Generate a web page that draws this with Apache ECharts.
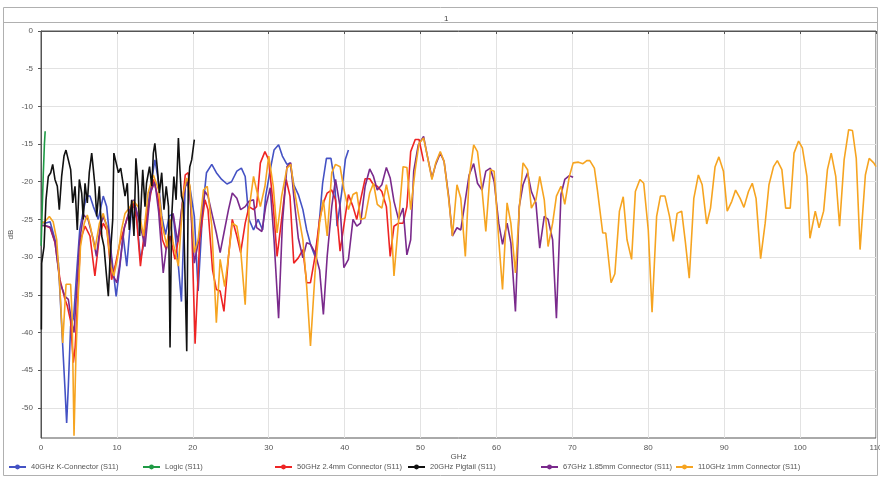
<!DOCTYPE html>
<html><head><meta charset="utf-8">
<script src="https://cdn.jsdelivr.net/npm/echarts@6/dist/echarts.min.js"></script>
<style>html,body{margin:0;padding:0;background:#fff}#c{width:880px;height:477px}</style>
</head><body><div id="c"></div>
<script>
const chartTitle = '1';
const xName = 'GHz';
const yName = 'dB';
const yTicks = [-50,-45,-40,-35,-30,-25,-20,-15,-10,-5,0];

const nameK40 = '40GHz K-Connector (S11)';
const nameLogic = 'Logic (S11)';
const name50 = '50GHz 2.4mm Connector (S11)';
const name20 = '20GHz Pigtail (S11)';
const name67 = '67GHz 1.85mm Connector (S11)';
const name110 = '110GHz 1mm Connector (S11)';

const k40 = [[0.05,-25.3],[0.5,-25.5],[1.2,-25.3],[1.85,-27.7],[2.3,-30.8],[2.7,-38.7],[3.16,-47.5],[3.38,-52.0],[3.6,-47.1],[3.9,-39.2],[4.3,-38],[4.7,-32],[5.1,-26.4],[5.6,-23.7],[6.0,-21.9],[6.45,-21.9],[6.9,-23.3],[7.55,-25.0],[8.2,-21.9],[8.65,-23.3],[9.3,-29.9],[9.9,-35.2],[10.4,-31.2],[10.8,-27],[11.3,-31.2],[11.95,-23.3],[12.5,-23.5],[13.1,-30.3],[13.6,-28],[14.1,-23],[14.6,-19.7],[15.0,-17.1],[15.4,-19.5],[15.9,-24.5],[16.4,-27],[16.9,-24.5],[17.4,-24.3],[18.1,-31.2],[18.5,-35.9],[19.0,-20.6],[19.4,-20.2],[19.6,-20.6],[20.2,-24.6],[20.7,-34.5],[21.3,-23.7],[21.8,-18.8],[22.5,-17.7],[23.1,-18.8],[23.8,-19.7],[24.5,-20.3],[25.1,-20.0],[25.8,-18.6],[26.4,-18.2],[26.9,-19.3],[27.4,-25.0],[28.0,-26.4],[28.6,-25.0],[29.2,-26.4],[29.6,-21.9],[30.2,-18.4],[30.7,-15.8],[31.3,-15.1],[31.8,-16.6],[32.4,-17.7],[32.8,-17.5],[33.3,-20.4],[33.9,-21.7],[34.5,-23.7],[35.0,-26.4],[35.5,-28.3],[36.1,-29.9],[36.5,-27.2],[37.1,-20.2],[37.6,-16.9],[38.2,-16.9],[38.7,-20.2],[39.0,-25.9],[39.6,-21.5],[40.1,-17],[40.5,-15.8]];

const logic = [[0.02,-28.5],[0.15,-24],[0.3,-19],[0.45,-15],[0.55,-13.3]];

const c50 = [[0.05,-25.8],[0.5,-25.8],[1.2,-26.1],[1.85,-28.1],[2.5,-33],[3.16,-35.6],[3.47,-36.5],[3.9,-38.5],[4.26,-44.0],[4.5,-42],[4.9,-34.3],[5.2,-27.7],[5.8,-25.9],[6.45,-27.2],[7.1,-32.5],[7.7,-27.2],[8.2,-25.5],[8.7,-26.5],[9.3,-33.0],[9.8,-31],[10.4,-28.1],[11.3,-25.0],[12.1,-22.6],[12.6,-25],[13.1,-31.2],[13.7,-26],[14.4,-21.9],[14.8,-19.7],[15.4,-22],[16.0,-27.7],[16.5,-29],[17.0,-27.2],[17.65,-30.3],[18.2,-27],[19.0,-19.1],[19.4,-18.8],[19.8,-24],[20.3,-41.5],[20.9,-27.7],[21.6,-22.4],[22.0,-23.7],[22.6,-31.7],[23.1,-34.3],[23.6,-34.5],[24.1,-37.2],[24.7,-29.9],[25.2,-25.0],[25.8,-27.2],[26.3,-29.4],[26.9,-25.5],[27.4,-23.3],[28.0,-23.7],[28.4,-23.3],[28.9,-17.5],[29.5,-16.0],[30.0,-17.1],[30.6,-23.3],[31.1,-29.9],[31.7,-25.0],[32.3,-19.7],[32.8,-21.9],[33.3,-30.8],[33.9,-30.1],[34.5,-29.0],[35.0,-33.4],[35.5,-33.4],[36.1,-29.9],[36.7,-25.0],[37.2,-22.8],[37.7,-21.5],[38.3,-21.1],[38.8,-22.4],[39.4,-29.2],[40.5,-21.7],[41.1,-23.3],[41.6,-25.0],[42.1,-22.4],[42.7,-19.6],[43.3,-19.6],[43.8,-20.4],[44.3,-20.6],[44.9,-21.3],[45.5,-23.3],[46.0,-29.9],[46.5,-25.9],[47.1,-25.5],[47.7,-25.5],[48.2,-23.3],[48.7,-16.0],[49.3,-14.4],[49.8,-14.4],[50.4,-17.3]];

const pig20 = [[0.05,-39.6],[0.09,-30.8],[0.4,-28.6],[0.66,-22.4],[0.96,-19.3],[1.28,-18.8],[1.54,-17.7],[1.84,-19.7],[2.15,-20.6],[2.41,-23.7],[2.72,-19.3],[3.03,-16.6],[3.29,-15.8],[3.6,-17.1],[3.91,-18.4],[4.18,-22.8],[4.48,-20.6],[4.78,-26.4],[5.05,-19.7],[5.36,-21.5],[5.57,-25.0],[5.8,-20.2],[6.1,-22.8],[6.36,-18.8],[6.68,-16.2],[6.9,-18.4],[7.11,-20.6],[7.34,-24.6],[7.68,-20.6],[8.0,-27.2],[8.3,-28.6],[8.56,-31.7],[8.87,-35.2],[9.09,-30.3],[9.45,-25.0],[9.6,-16.2],[9.9,-17.5],[10.2,-18.8],[10.5,-18.2],[10.76,-18.4],[11.07,-21.9],[11.37,-20.2],[11.63,-26.4],[11.95,-22.4],[12.25,-27.2],[12.5,-16.9],[12.8,-20.6],[13.0,-27.2],[13.4,-18.4],[13.7,-23.3],[13.9,-20.2],[14.3,-18.0],[14.6,-20.6],[14.8,-16.2],[15.0,-14.9],[15.3,-18.0],[15.6,-21.5],[15.9,-18.8],[16.2,-23.7],[16.5,-20.6],[16.8,-23.3],[17.0,-42.0],[17.2,-25.0],[17.5,-19.3],[17.8,-22.4],[18.1,-14.2],[18.3,-18.4],[18.5,-21.9],[18.75,-22.8],[19.2,-42.5],[19.4,-20.6],[19.6,-18.0],[19.85,-17.1],[20.2,-14.4]];

const c67 = [[0.05,-25.8],[0.5,-25.8],[1.2,-26],[1.85,-28],[2.5,-33.4],[3.16,-35.2],[3.6,-35.6],[4.04,-38.7],[4.35,-40.0],[4.7,-34.3],[5.1,-27.7],[5.6,-24.4],[6.2,-25.0],[6.9,-27.7],[7.3,-29.9],[7.8,-25.9],[8.2,-24.6],[8.9,-26.4],[9.5,-32.5],[10.0,-33.4],[10.4,-30.8],[11.0,-26],[11.6,-24],[12.2,-22.4],[12.9,-25],[13.7,-28.6],[14.4,-21.5],[15.0,-20],[15.5,-24],[16.1,-32.1],[16.6,-28],[17.4,-24.2],[18.0,-28],[18.6,-23],[19.2,-19.7],[19.6,-21.5],[20.2,-30.8],[20.7,-28.1],[21.6,-21.3],[22.0,-21.9],[22.6,-24.6],[23.1,-26.8],[23.6,-29.4],[24.1,-26.8],[24.7,-23.7],[25.2,-21.5],[25.8,-22.2],[26.3,-23.7],[26.9,-23.3],[27.4,-22.6],[28.0,-22.4],[28.4,-26.1],[29.1,-26.6],[29.6,-23.3],[30.2,-20.8],[30.7,-27.7],[31.3,-38.1],[31.8,-25.5],[32.4,-18.0],[32.9,-17.5],[33.3,-21.9],[33.9,-27.5],[34.5,-30.1],[35.0,-28.1],[35.5,-28.3],[36.1,-29.4],[36.7,-31.7],[37.2,-37.6],[37.7,-29.9],[38.3,-23.3],[38.8,-19.7],[39.4,-23.3],[39.9,-31.4],[40.5,-30.3],[41.1,-25.0],[41.6,-25.9],[42.1,-25.5],[42.7,-20.6],[43.3,-18.3],[43.8,-19.3],[44.3,-21.1],[44.9,-20.4],[45.5,-18.1],[46.0,-19.5],[46.5,-22.6],[47.1,-25.0],[47.7,-23.5],[48.2,-29.7],[48.7,-27.7],[49.1,-18.6],[49.7,-15.1],[50.4,-14.0],[50.9,-16.6],[51.5,-19.5],[52.0,-17.7],[52.6,-16.2],[53.1,-17.3],[53.7,-21.9],[54.2,-27.2],[54.8,-26.1],[55.3,-26.4],[55.9,-22.4],[56.4,-19.1],[57.0,-17.6],[57.5,-20.2],[58.1,-21.1],[58.6,-18.6],[59.2,-18.2],[59.7,-20.0],[60.3,-25.5],[60.8,-28.3],[61.4,-25.5],[61.9,-28.1],[62.5,-37.2],[63.0,-23.3],[63.5,-20.4],[64.1,-18.8],[64.6,-21.3],[65.2,-22.8],[65.7,-28.8],[66.3,-24.6],[66.8,-25.0],[67.4,-27.7],[67.9,-38.1],[68.5,-21.7],[69.0,-19.7],[69.6,-19.2],[70.1,-19.4]];

const c110 = [[0.05,-25.5],[0.5,-25.3],[1.1,-24.6],[1.6,-25.3],[2.07,-27.7],[2.5,-34.3],[2.86,-41.4],[3.3,-33.6],[3.9,-33.6],[4.1,-37.8],[4.35,-53.7],[4.6,-43.1],[4.9,-35.2],[5.2,-28.6],[5.7,-25.5],[6.1,-24.4],[6.5,-25.9],[7.1,-29.0],[7.7,-25.5],[8.2,-24.2],[8.65,-25.9],[9.2,-31.2],[9.6,-32.5],[10.05,-30.3],[10.6,-26.4],[11.07,-24.2],[11.6,-23.5],[12.2,-22.6],[12.8,-23.3],[13.5,-27.2],[14.1,-21.5],[14.8,-19.1],[15.5,-21.1],[16.0,-25.9],[16.6,-28.6],[17.0,-25.0],[17.4,-28.1],[18.1,-31.2],[18.75,-21.5],[19.2,-19.5],[19.6,-20.4],[20.2,-29.4],[20.7,-27.7],[21.4,-21.1],[21.9,-20.6],[22.5,-25.9],[23.1,-38.7],[23.6,-30.3],[24.2,-33.9],[24.7,-29.9],[25.2,-25.5],[25.8,-25.9],[26.3,-29.0],[26.9,-36.3],[27.4,-23.7],[28.0,-19.3],[28.4,-21.1],[28.9,-23.3],[29.5,-20.6],[30.0,-16.6],[30.6,-20.6],[31.1,-26.8],[31.7,-21.9],[32.4,-18.2],[32.9,-17.7],[33.3,-20.6],[33.9,-24.2],[34.5,-27.7],[35.0,-33.9],[35.5,-41.8],[36.1,-32.1],[36.7,-25.5],[37.2,-22.4],[37.7,-27.2],[38.3,-18.8],[38.8,-17.7],[39.4,-18.0],[39.9,-21],[40.5,-23.7],[41.1,-21.7],[41.6,-21.4],[42.1,-25.0],[42.7,-24.8],[43.3,-21.5],[43.8,-20.2],[44.3,-23.0],[44.9,-23.5],[45.5,-20.4],[46.0,-22.8],[46.5,-32.5],[47.1,-25.3],[47.7,-18.0],[48.2,-18.1],[48.7,-23.7],[49.3,-18.4],[49.8,-14.9],[50.4,-14.2],[50.9,-16.6],[51.5,-19.7],[52.0,-17.5],[52.6,-16.0],[53.1,-17.3],[53.7,-22.2],[54.2,-27.2],[54.8,-20.4],[55.3,-22.2],[55.9,-29.9],[56.4,-19.5],[57.0,-15.1],[57.5,-16.0],[58.1,-21.1],[58.6,-26.6],[59.2,-18.4],[59.7,-18.6],[60.3,-27.7],[60.8,-34.3],[61.4,-22.8],[61.9,-25.5],[62.5,-32.1],[63.0,-23.7],[63.5,-17.5],[64.1,-18.4],[64.6,-23.5],[65.2,-22.4],[65.7,-19.3],[66.3,-22.4],[66.8,-28.6],[67.4,-25.5],[67.9,-21.9],[68.5,-20.6],[69.0,-23.0],[69.6,-19.3],[70.1,-17.5],[70.8,-17.4],[71.4,-17.6],[71.9,-17.2],[72.3,-17.2],[72.9,-18.2],[73.3,-21.1],[74.0,-26.8],[74.4,-26.8],[75.1,-33.4],[75.6,-32.2],[76.2,-23.9],[76.7,-22.0],[77.2,-27.7],[77.8,-30.3],[78.3,-21.3],[78.9,-19.7],[79.4,-20.2],[80.0,-26.4],[80.5,-37.3],[81.1,-24.6],[81.6,-21.9],[82.2,-21.9],[82.8,-24.6],[83.3,-27.9],[83.8,-24.2],[84.4,-23.9],[84.9,-28.1],[85.4,-32.8],[86.0,-22.2],[86.6,-19.1],[87.1,-20.4],[87.7,-25.6],[88.2,-23.5],[88.8,-18.0],[89.3,-16.7],[89.9,-18.6],[90.4,-23.9],[91.0,-22.6],[91.5,-21.1],[92.1,-22.2],[92.6,-23.4],[93.2,-21.3],[93.7,-20.2],[94.2,-22.2],[94.8,-30.2],[95.4,-25.5],[95.9,-20.4],[96.5,-18.0],[97.0,-17.2],[97.6,-18.4],[98.1,-23.5],[98.7,-23.5],[99.2,-16.2],[99.8,-14.6],[100.3,-15.5],[100.9,-19.3],[101.3,-27.5],[102.0,-23.9],[102.5,-26.1],[103.1,-23.9],[103.6,-18.4],[104.1,-16.2],[104.7,-19.3],[105.2,-25.9],[105.8,-17.1],[106.4,-13.1],[106.9,-13.2],[107.4,-16.9],[107.9,-29.0],[108.6,-19.1],[109.1,-16.9],[109.7,-17.5],[110.0,-18.0]];

const colors = {
  [nameK40]: '#4452c4',
  [nameLogic]: '#1f9a45',
  [name50]: '#ee2424',
  [name20]: '#111111',
  [name67]: '#7a2a8c',
  [name110]: '#f6a420'
};

const legendOrder = [nameK40, nameLogic, name50, name20, name67, name110];
const legendLeft = [8, 142, 274, 407, 540, 675];

function mk(name, data, z) {
  return {
    name: name, type: 'line', data: data, z: z,
    symbol: 'circle', symbolSize: 4, showSymbol: false,
    lineStyle: { width: 1.6, color: colors[name] },
    itemStyle: { color: colors[name] },
    emphasis: { disabled: true },
    animation: false
  };
}

const chart = echarts.init(document.getElementById('c'), null, { renderer: 'canvas' });
const textCol = '#555';
chart.setOption({
  backgroundColor: '#fff',
  animation: false,
  title: { text: chartTitle, left: 439, top: 10, textStyle: { fontSize: 8, fontWeight: 'normal', color: '#444', fontFamily: 'Liberation Sans' } },
  graphic: [
    { type: 'rect', shape: { x: 3.5, y: 7.5, width: 874, height: 468 }, style: { fill: 'none', stroke: '#b0b0b0', lineWidth: 1 }, silent: true },
    { type: 'line', shape: { x1: 3.5, y1: 22.5, x2: 877.5, y2: 22.5 }, style: { stroke: '#b0b0b0', lineWidth: 1 }, silent: true }
  ],
  legend: legendOrder.map((n, i) => ({
    data: [n], left: legendLeft[i], top: 463, itemWidth: 17, itemHeight: 6, itemGap: 4, padding: 0,
    textStyle: { fontSize: 7.5, color: '#555', fontFamily: 'Liberation Sans' }, selectedMode: false
  })),
  grid: { left: 41, right: 4, top: 31, bottom: 39, show: true, borderColor: '#555', borderWidth: 1, containLabel: false, outerBoundsMode: 'none' },
  xAxis: {
    type: 'value', min: 0, max: 110, interval: 10,
    name: xName, nameLocation: 'middle', nameGap: 15, nameMoveOverlap: false,
    nameTextStyle: { fontSize: 8, color: textCol, fontFamily: 'Liberation Sans' },
    axisLine: { show: true, lineStyle: { color: '#555' } },
    axisTick: { show: true, length: 3, lineStyle: { color: '#555' } },
    axisLabel: { fontSize: 8, color: textCol, margin: 6, fontFamily: 'Liberation Sans' },
    splitLine: { show: true, lineStyle: { color: '#e2e2e2', width: 1 } }
  },
  yAxis: {
    type: 'value', min: -54, max: 0,
    name: yName, nameLocation: 'middle', nameGap: 26, nameRotate: 90, nameMoveOverlap: false,
    nameTextStyle: { fontSize: 8, color: textCol, fontFamily: 'Liberation Sans' },
    axisLine: { show: true, lineStyle: { color: '#555' } },
    axisTick: { show: true, length: 3, customValues: yTicks, lineStyle: { color: '#555' } },
    axisLabel: { fontSize: 8, color: textCol, margin: 8, customValues: yTicks, fontFamily: 'Liberation Sans' },
    splitLine: { show: true, lineStyle: { color: '#e2e2e2', width: 1 } }
  },
  series: [
    mk(nameK40, k40, 2),
    mk(name50, c50, 3),
    mk(name67, c67, 4),
    mk(name110, c110, 5),
    mk(name20, pig20, 6),
    mk(nameLogic, logic, 7)
  ]
});
</script>
</body></html>
